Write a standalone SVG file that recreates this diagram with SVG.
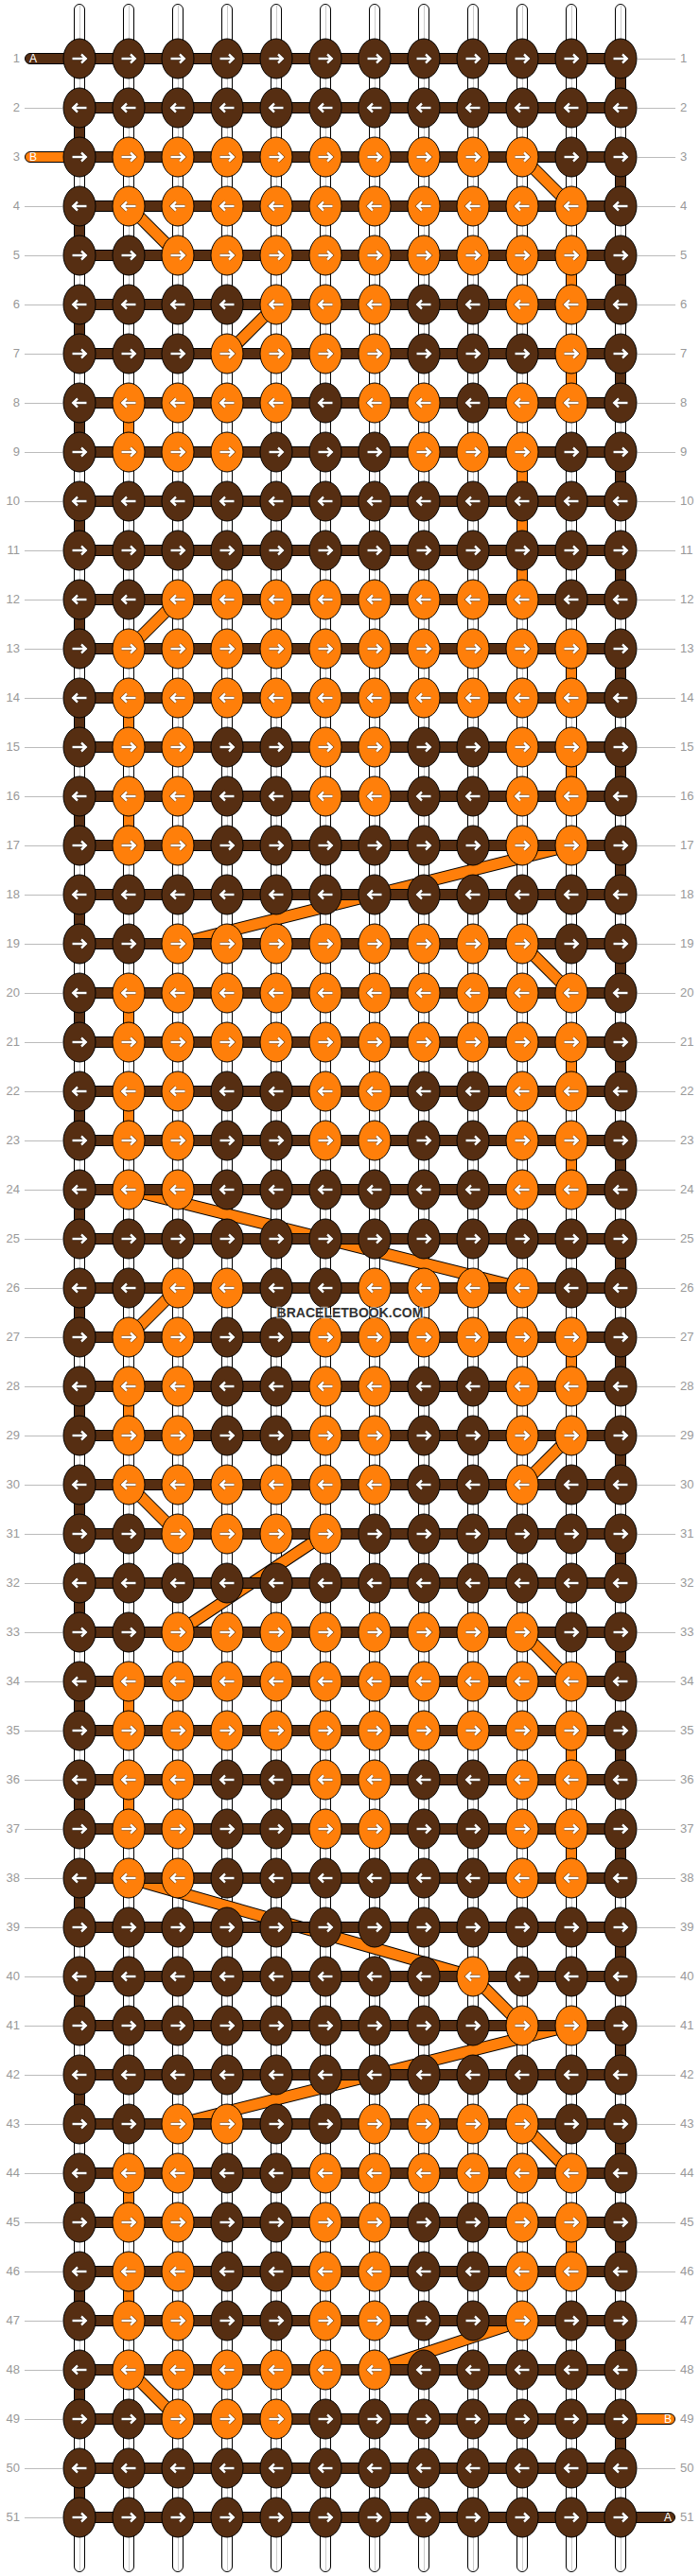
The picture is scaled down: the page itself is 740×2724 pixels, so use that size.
<svg xmlns="http://www.w3.org/2000/svg" width="740" height="2724" viewBox="0 0 740 2724">
<style>
.t{fill:#fff;stroke:#000}
.tc{fill:#ccc}
.bk{fill:#562e12;stroke:#000}
.og{fill:#ff7f0a;stroke:#000}
.dk{stroke:#000;stroke-width:13}
.do{stroke:#ff7f0a;stroke-width:11}
.ak{fill:none;stroke:#000;stroke-width:3.6;opacity:.55}
.aw{fill:none;stroke:#fff;stroke-width:2.4}
text{font-family:"Liberation Sans",Arial,sans-serif}
.l{font-size:13px;fill:#999;text-anchor:end}
.r{font-size:13px;fill:#999}
.e{font-size:12px;fill:#fff}
.g{fill:none;stroke:#bbb}
.w{font-size:14px;font-weight:bold;fill:#333;text-anchor:middle;stroke:#fff;stroke-opacity:.55;stroke-width:2.5px;paint-order:stroke}
</style>
<defs>
<path id="pr" d="M-7.5 0H6.5M2 -4.5L6.8 0L2 4.5"/>
<path id="pl" d="M7.5 0H-6.5M-2 -4.5L-6.8 0L-2 4.5"/>
<g id="aR"><use href="#pr" class="ak"/><use href="#pr" class="aw"/></g>
<g id="aL"><use href="#pl" class="ak"/><use href="#pl" class="aw"/></g>
<g id="bR"><ellipse class="bk" rx="17" ry="21"/><use href="#aR"/></g>
<g id="bL"><ellipse class="bk" rx="17" ry="21"/><use href="#aL"/></g>
<g id="oR"><ellipse class="og" rx="17" ry="21"/><use href="#aR"/></g>
<g id="oL"><ellipse class="og" rx="17" ry="21"/><use href="#aL"/></g>
<rect id="hb" class="bk" x="84" y="-5.5" width="572" height="11"/>
<rect id="vb" class="bk" x="-5.5" y="15" width="11" height="22"/>
<rect id="vo" class="og" x="-5.5" y="15" width="11" height="22"/>
<g id="th"><rect class="t" x="-5.5" y="4.5" width="11" height="2715" rx="5.5"/><rect class="tc" x="0" y="6" width="1" height="2712"/></g>
</defs>
<g id="connectors">
<g id="threads"><use href="#th" x="84"/><use href="#th" x="136"/><use href="#th" x="188"/><use href="#th" x="240"/><use href="#th" x="292"/><use href="#th" x="344"/><use href="#th" x="396"/><use href="#th" x="448"/><use href="#th" x="500"/><use href="#th" x="552"/><use href="#th" x="604"/><use href="#th" x="656"/></g>
<g id="diagonals">
<line class="dk" x1="552" y1="166" x2="604" y2="218"/><line class="do" x1="552" y1="166" x2="604" y2="218"/>
<line class="dk" x1="136" y1="218" x2="188" y2="270"/><line class="do" x1="136" y1="218" x2="188" y2="270"/>
<line class="dk" x1="240" y1="374" x2="292" y2="322"/><line class="do" x1="240" y1="374" x2="292" y2="322"/>
<line class="dk" x1="136" y1="686" x2="188" y2="634"/><line class="do" x1="136" y1="686" x2="188" y2="634"/>
<line class="dk" x1="604" y1="894" x2="188" y2="998"/><line class="do" x1="604" y1="894" x2="188" y2="998"/>
<line class="dk" x1="552" y1="998" x2="604" y2="1050"/><line class="do" x1="552" y1="998" x2="604" y2="1050"/>
<line class="dk" x1="136" y1="1258" x2="552" y2="1362"/><line class="do" x1="136" y1="1258" x2="552" y2="1362"/>
<line class="dk" x1="136" y1="1414" x2="188" y2="1362"/><line class="do" x1="136" y1="1414" x2="188" y2="1362"/>
<line class="dk" x1="552" y1="1570" x2="604" y2="1518"/><line class="do" x1="552" y1="1570" x2="604" y2="1518"/>
<line class="dk" x1="136" y1="1570" x2="188" y2="1622"/><line class="do" x1="136" y1="1570" x2="188" y2="1622"/>
<line class="dk" x1="344" y1="1622" x2="188" y2="1726"/><line class="do" x1="344" y1="1622" x2="188" y2="1726"/>
<line class="dk" x1="552" y1="1726" x2="604" y2="1778"/><line class="do" x1="552" y1="1726" x2="604" y2="1778"/>
<line class="dk" x1="136" y1="1986" x2="500" y2="2090"/><line class="do" x1="136" y1="1986" x2="500" y2="2090"/>
<line class="dk" x1="500" y1="2090" x2="552" y2="2142"/><line class="do" x1="500" y1="2090" x2="552" y2="2142"/>
<line class="dk" x1="604" y1="2142" x2="188" y2="2246"/><line class="do" x1="604" y1="2142" x2="188" y2="2246"/>
<line class="dk" x1="552" y1="2246" x2="604" y2="2298"/><line class="do" x1="552" y1="2246" x2="604" y2="2298"/>
<line class="dk" x1="552" y1="2454" x2="396" y2="2506"/><line class="do" x1="552" y1="2454" x2="396" y2="2506"/>
<line class="dk" x1="136" y1="2506" x2="188" y2="2558"/><line class="do" x1="136" y1="2506" x2="188" y2="2558"/>
</g>
<g id="bars"><use href="#hb" y="62"/><use href="#hb" y="114"/><use href="#hb" y="166"/><use href="#hb" y="218"/><use href="#hb" y="270"/><use href="#hb" y="322"/><use href="#hb" y="374"/><use href="#hb" y="426"/><use href="#hb" y="478"/><use href="#hb" y="530"/><use href="#hb" y="582"/><use href="#hb" y="634"/><use href="#hb" y="686"/><use href="#hb" y="738"/><use href="#hb" y="790"/><use href="#hb" y="842"/><use href="#hb" y="894"/><use href="#hb" y="946"/><use href="#hb" y="998"/><use href="#hb" y="1050"/><use href="#hb" y="1102"/><use href="#hb" y="1154"/><use href="#hb" y="1206"/><use href="#hb" y="1258"/><use href="#hb" y="1310"/><use href="#hb" y="1362"/><use href="#hb" y="1414"/><use href="#hb" y="1466"/><use href="#hb" y="1518"/><use href="#hb" y="1570"/><use href="#hb" y="1622"/><use href="#hb" y="1674"/><use href="#hb" y="1726"/><use href="#hb" y="1778"/><use href="#hb" y="1830"/><use href="#hb" y="1882"/><use href="#hb" y="1934"/><use href="#hb" y="1986"/><use href="#hb" y="2038"/><use href="#hb" y="2090"/><use href="#hb" y="2142"/><use href="#hb" y="2194"/><use href="#hb" y="2246"/><use href="#hb" y="2298"/><use href="#hb" y="2350"/><use href="#hb" y="2402"/><use href="#hb" y="2454"/><use href="#hb" y="2506"/><use href="#hb" y="2558"/><use href="#hb" y="2610"/><use href="#hb" y="2662"/></g>
<g id="edge-left"><use href="#vb" x="84" y="114"/><use href="#vb" x="84" y="218"/><use href="#vb" x="84" y="322"/><use href="#vb" x="84" y="426"/><use href="#vb" x="84" y="530"/><use href="#vb" x="84" y="634"/><use href="#vb" x="84" y="738"/><use href="#vb" x="84" y="842"/><use href="#vb" x="84" y="946"/><use href="#vb" x="84" y="1050"/><use href="#vb" x="84" y="1154"/><use href="#vb" x="84" y="1258"/><use href="#vb" x="84" y="1362"/><use href="#vb" x="84" y="1466"/><use href="#vb" x="84" y="1570"/><use href="#vb" x="84" y="1674"/><use href="#vb" x="84" y="1778"/><use href="#vb" x="84" y="1882"/><use href="#vb" x="84" y="1986"/><use href="#vb" x="84" y="2090"/><use href="#vb" x="84" y="2194"/><use href="#vb" x="84" y="2298"/><use href="#vb" x="84" y="2402"/><use href="#vb" x="84" y="2506"/><use href="#vb" x="84" y="2610"/></g>
<g id="edge-right"><use href="#vb" x="656" y="62"/><use href="#vb" x="656" y="166"/><use href="#vb" x="656" y="270"/><use href="#vb" x="656" y="374"/><use href="#vb" x="656" y="478"/><use href="#vb" x="656" y="582"/><use href="#vb" x="656" y="686"/><use href="#vb" x="656" y="790"/><use href="#vb" x="656" y="894"/><use href="#vb" x="656" y="998"/><use href="#vb" x="656" y="1102"/><use href="#vb" x="656" y="1206"/><use href="#vb" x="656" y="1310"/><use href="#vb" x="656" y="1414"/><use href="#vb" x="656" y="1518"/><use href="#vb" x="656" y="1622"/><use href="#vb" x="656" y="1726"/><use href="#vb" x="656" y="1830"/><use href="#vb" x="656" y="1934"/><use href="#vb" x="656" y="2038"/><use href="#vb" x="656" y="2142"/><use href="#vb" x="656" y="2246"/><use href="#vb" x="656" y="2350"/><use href="#vb" x="656" y="2454"/><use href="#vb" x="656" y="2558"/></g>
<g id="orange-links"><use href="#vo" x="604" y="270"/><use href="#vo" x="604" y="374"/><use href="#vo" x="604" y="686"/><use href="#vo" x="604" y="790"/><use href="#vo" x="604" y="1102"/><use href="#vo" x="604" y="1206"/><use href="#vo" x="604" y="1414"/><use href="#vo" x="604" y="1830"/><use href="#vo" x="604" y="1934"/><use href="#vo" x="604" y="2350"/><use href="#vo" x="136" y="426"/><use href="#vo" x="136" y="738"/><use href="#vo" x="136" y="842"/><use href="#vo" x="136" y="1050"/><use href="#vo" x="136" y="1154"/><use href="#vo" x="136" y="1466"/><use href="#vo" x="136" y="1778"/><use href="#vo" x="136" y="1882"/><use href="#vo" x="136" y="2298"/><use href="#vo" x="136" y="2402"/><use href="#vo" x="552" y="478"/><use href="#vo" x="552" y="530"/><use href="#vo" x="552" y="582"/></g>
<g id="ends">
<rect class="bk" x="26.5" y="56.5" width="60" height="11" rx="5.5"/>
<rect class="og" x="26.5" y="160.5" width="60" height="11" rx="5.5"/>
<rect class="og" x="650" y="2552.5" width="63.5" height="11" rx="5.5"/>
<rect class="bk" x="650" y="2656.5" width="63.5" height="11" rx="5.5"/>
</g>
</g>
<g id="nodes">
<g id="row1" transform="translate(0 62)"><g id="n1-0"><use href="#bR" x="84"/></g><g id="n1-1"><use href="#bR" x="136"/></g><g id="n1-2"><use href="#bR" x="188"/></g><g id="n1-3"><use href="#bR" x="240"/></g><g id="n1-4"><use href="#bR" x="292"/></g><g id="n1-5"><use href="#bR" x="344"/></g><g id="n1-6"><use href="#bR" x="396"/></g><g id="n1-7"><use href="#bR" x="448"/></g><g id="n1-8"><use href="#bR" x="500"/></g><g id="n1-9"><use href="#bR" x="552"/></g><g id="n1-10"><use href="#bR" x="604"/></g><g id="n1-11"><use href="#bR" x="656"/></g></g>
<g id="row2" transform="translate(0 114)"><g id="n2-0"><use href="#bL" x="84"/></g><g id="n2-1"><use href="#bL" x="136"/></g><g id="n2-2"><use href="#bL" x="188"/></g><g id="n2-3"><use href="#bL" x="240"/></g><g id="n2-4"><use href="#bL" x="292"/></g><g id="n2-5"><use href="#bL" x="344"/></g><g id="n2-6"><use href="#bL" x="396"/></g><g id="n2-7"><use href="#bL" x="448"/></g><g id="n2-8"><use href="#bL" x="500"/></g><g id="n2-9"><use href="#bL" x="552"/></g><g id="n2-10"><use href="#bL" x="604"/></g><g id="n2-11"><use href="#bL" x="656"/></g></g>
<g id="row3" transform="translate(0 166)"><g id="n3-0"><use href="#bR" x="84"/></g><g id="n3-1"><use href="#oR" x="136"/></g><g id="n3-2"><use href="#oR" x="188"/></g><g id="n3-3"><use href="#oR" x="240"/></g><g id="n3-4"><use href="#oR" x="292"/></g><g id="n3-5"><use href="#oR" x="344"/></g><g id="n3-6"><use href="#oR" x="396"/></g><g id="n3-7"><use href="#oR" x="448"/></g><g id="n3-8"><use href="#oR" x="500"/></g><g id="n3-9"><use href="#oR" x="552"/></g><g id="n3-10"><use href="#bR" x="604"/></g><g id="n3-11"><use href="#bR" x="656"/></g></g>
<g id="row4" transform="translate(0 218)"><g id="n4-0"><use href="#bL" x="84"/></g><g id="n4-1"><use href="#oL" x="136"/></g><g id="n4-2"><use href="#oL" x="188"/></g><g id="n4-3"><use href="#oL" x="240"/></g><g id="n4-4"><use href="#oL" x="292"/></g><g id="n4-5"><use href="#oL" x="344"/></g><g id="n4-6"><use href="#oL" x="396"/></g><g id="n4-7"><use href="#oL" x="448"/></g><g id="n4-8"><use href="#oL" x="500"/></g><g id="n4-9"><use href="#oL" x="552"/></g><g id="n4-10"><use href="#oL" x="604"/></g><g id="n4-11"><use href="#bL" x="656"/></g></g>
<g id="row5" transform="translate(0 270)"><g id="n5-0"><use href="#bR" x="84"/></g><g id="n5-1"><use href="#bR" x="136"/></g><g id="n5-2"><use href="#oR" x="188"/></g><g id="n5-3"><use href="#oR" x="240"/></g><g id="n5-4"><use href="#oR" x="292"/></g><g id="n5-5"><use href="#oR" x="344"/></g><g id="n5-6"><use href="#oR" x="396"/></g><g id="n5-7"><use href="#oR" x="448"/></g><g id="n5-8"><use href="#oR" x="500"/></g><g id="n5-9"><use href="#oR" x="552"/></g><g id="n5-10"><use href="#oR" x="604"/></g><g id="n5-11"><use href="#bR" x="656"/></g></g>
<g id="row6" transform="translate(0 322)"><g id="n6-0"><use href="#bL" x="84"/></g><g id="n6-1"><use href="#bL" x="136"/></g><g id="n6-2"><use href="#bL" x="188"/></g><g id="n6-3"><use href="#bL" x="240"/></g><g id="n6-4"><use href="#oL" x="292"/></g><g id="n6-5"><use href="#oL" x="344"/></g><g id="n6-6"><use href="#oL" x="396"/></g><g id="n6-7"><use href="#bL" x="448"/></g><g id="n6-8"><use href="#bL" x="500"/></g><g id="n6-9"><use href="#oL" x="552"/></g><g id="n6-10"><use href="#oL" x="604"/></g><g id="n6-11"><use href="#bL" x="656"/></g></g>
<g id="row7" transform="translate(0 374)"><g id="n7-0"><use href="#bR" x="84"/></g><g id="n7-1"><use href="#bR" x="136"/></g><g id="n7-2"><use href="#bR" x="188"/></g><g id="n7-3"><use href="#oR" x="240"/></g><g id="n7-4"><use href="#oR" x="292"/></g><g id="n7-5"><use href="#oR" x="344"/></g><g id="n7-6"><use href="#oR" x="396"/></g><g id="n7-7"><use href="#bR" x="448"/></g><g id="n7-8"><use href="#bR" x="500"/></g><g id="n7-9"><use href="#bR" x="552"/></g><g id="n7-10"><use href="#oR" x="604"/></g><g id="n7-11"><use href="#bR" x="656"/></g></g>
<g id="row8" transform="translate(0 426)"><g id="n8-0"><use href="#bL" x="84"/></g><g id="n8-1"><use href="#oL" x="136"/></g><g id="n8-2"><use href="#oL" x="188"/></g><g id="n8-3"><use href="#oL" x="240"/></g><g id="n8-4"><use href="#oL" x="292"/></g><g id="n8-5"><use href="#bL" x="344"/></g><g id="n8-6"><use href="#oL" x="396"/></g><g id="n8-7"><use href="#oL" x="448"/></g><g id="n8-8"><use href="#bL" x="500"/></g><g id="n8-9"><use href="#oL" x="552"/></g><g id="n8-10"><use href="#oL" x="604"/></g><g id="n8-11"><use href="#bL" x="656"/></g></g>
<g id="row9" transform="translate(0 478)"><g id="n9-0"><use href="#bR" x="84"/></g><g id="n9-1"><use href="#oR" x="136"/></g><g id="n9-2"><use href="#oR" x="188"/></g><g id="n9-3"><use href="#oR" x="240"/></g><g id="n9-4"><use href="#bR" x="292"/></g><g id="n9-5"><use href="#bR" x="344"/></g><g id="n9-6"><use href="#bR" x="396"/></g><g id="n9-7"><use href="#oR" x="448"/></g><g id="n9-8"><use href="#oR" x="500"/></g><g id="n9-9"><use href="#oR" x="552"/></g><g id="n9-10"><use href="#bR" x="604"/></g><g id="n9-11"><use href="#bR" x="656"/></g></g>
<g id="row10" transform="translate(0 530)"><g id="n10-0"><use href="#bL" x="84"/></g><g id="n10-1"><use href="#bL" x="136"/></g><g id="n10-2"><use href="#bL" x="188"/></g><g id="n10-3"><use href="#bL" x="240"/></g><g id="n10-4"><use href="#bL" x="292"/></g><g id="n10-5"><use href="#bL" x="344"/></g><g id="n10-6"><use href="#bL" x="396"/></g><g id="n10-7"><use href="#bL" x="448"/></g><g id="n10-8"><use href="#bL" x="500"/></g><g id="n10-9"><use href="#bL" x="552"/></g><g id="n10-10"><use href="#bL" x="604"/></g><g id="n10-11"><use href="#bL" x="656"/></g></g>
<g id="row11" transform="translate(0 582)"><g id="n11-0"><use href="#bR" x="84"/></g><g id="n11-1"><use href="#bR" x="136"/></g><g id="n11-2"><use href="#bR" x="188"/></g><g id="n11-3"><use href="#bR" x="240"/></g><g id="n11-4"><use href="#bR" x="292"/></g><g id="n11-5"><use href="#bR" x="344"/></g><g id="n11-6"><use href="#bR" x="396"/></g><g id="n11-7"><use href="#bR" x="448"/></g><g id="n11-8"><use href="#bR" x="500"/></g><g id="n11-9"><use href="#bR" x="552"/></g><g id="n11-10"><use href="#bR" x="604"/></g><g id="n11-11"><use href="#bR" x="656"/></g></g>
<g id="row12" transform="translate(0 634)"><g id="n12-0"><use href="#bL" x="84"/></g><g id="n12-1"><use href="#bL" x="136"/></g><g id="n12-2"><use href="#oL" x="188"/></g><g id="n12-3"><use href="#oL" x="240"/></g><g id="n12-4"><use href="#oL" x="292"/></g><g id="n12-5"><use href="#oL" x="344"/></g><g id="n12-6"><use href="#oL" x="396"/></g><g id="n12-7"><use href="#oL" x="448"/></g><g id="n12-8"><use href="#oL" x="500"/></g><g id="n12-9"><use href="#oL" x="552"/></g><g id="n12-10"><use href="#bL" x="604"/></g><g id="n12-11"><use href="#bL" x="656"/></g></g>
<g id="row13" transform="translate(0 686)"><g id="n13-0"><use href="#bR" x="84"/></g><g id="n13-1"><use href="#oR" x="136"/></g><g id="n13-2"><use href="#oR" x="188"/></g><g id="n13-3"><use href="#oR" x="240"/></g><g id="n13-4"><use href="#oR" x="292"/></g><g id="n13-5"><use href="#oR" x="344"/></g><g id="n13-6"><use href="#oR" x="396"/></g><g id="n13-7"><use href="#oR" x="448"/></g><g id="n13-8"><use href="#oR" x="500"/></g><g id="n13-9"><use href="#oR" x="552"/></g><g id="n13-10"><use href="#oR" x="604"/></g><g id="n13-11"><use href="#bR" x="656"/></g></g>
<g id="row14" transform="translate(0 738)"><g id="n14-0"><use href="#bL" x="84"/></g><g id="n14-1"><use href="#oL" x="136"/></g><g id="n14-2"><use href="#oL" x="188"/></g><g id="n14-3"><use href="#oL" x="240"/></g><g id="n14-4"><use href="#oL" x="292"/></g><g id="n14-5"><use href="#oL" x="344"/></g><g id="n14-6"><use href="#oL" x="396"/></g><g id="n14-7"><use href="#oL" x="448"/></g><g id="n14-8"><use href="#oL" x="500"/></g><g id="n14-9"><use href="#oL" x="552"/></g><g id="n14-10"><use href="#oL" x="604"/></g><g id="n14-11"><use href="#bL" x="656"/></g></g>
<g id="row15" transform="translate(0 790)"><g id="n15-0"><use href="#bR" x="84"/></g><g id="n15-1"><use href="#oR" x="136"/></g><g id="n15-2"><use href="#oR" x="188"/></g><g id="n15-3"><use href="#bR" x="240"/></g><g id="n15-4"><use href="#bR" x="292"/></g><g id="n15-5"><use href="#oR" x="344"/></g><g id="n15-6"><use href="#oR" x="396"/></g><g id="n15-7"><use href="#bR" x="448"/></g><g id="n15-8"><use href="#bR" x="500"/></g><g id="n15-9"><use href="#oR" x="552"/></g><g id="n15-10"><use href="#oR" x="604"/></g><g id="n15-11"><use href="#bR" x="656"/></g></g>
<g id="row16" transform="translate(0 842)"><g id="n16-0"><use href="#bL" x="84"/></g><g id="n16-1"><use href="#oL" x="136"/></g><g id="n16-2"><use href="#oL" x="188"/></g><g id="n16-3"><use href="#bL" x="240"/></g><g id="n16-4"><use href="#bL" x="292"/></g><g id="n16-5"><use href="#oL" x="344"/></g><g id="n16-6"><use href="#oL" x="396"/></g><g id="n16-7"><use href="#bL" x="448"/></g><g id="n16-8"><use href="#bL" x="500"/></g><g id="n16-9"><use href="#oL" x="552"/></g><g id="n16-10"><use href="#oL" x="604"/></g><g id="n16-11"><use href="#bL" x="656"/></g></g>
<g id="row17" transform="translate(0 894)"><g id="n17-0"><use href="#bR" x="84"/></g><g id="n17-1"><use href="#oR" x="136"/></g><g id="n17-2"><use href="#oR" x="188"/></g><g id="n17-3"><use href="#bR" x="240"/></g><g id="n17-4"><use href="#bR" x="292"/></g><g id="n17-5"><use href="#bR" x="344"/></g><g id="n17-6"><use href="#bR" x="396"/></g><g id="n17-7"><use href="#bR" x="448"/></g><g id="n17-8"><use href="#bR" x="500"/></g><g id="n17-9"><use href="#oR" x="552"/></g><g id="n17-10"><use href="#oR" x="604"/></g><g id="n17-11"><use href="#bR" x="656"/></g></g>
<g id="row18" transform="translate(0 946)"><g id="n18-0"><use href="#bL" x="84"/></g><g id="n18-1"><use href="#bL" x="136"/></g><g id="n18-2"><use href="#bL" x="188"/></g><g id="n18-3"><use href="#bL" x="240"/></g><g id="n18-4"><use href="#bL" x="292"/></g><g id="n18-5"><use href="#bL" x="344"/></g><g id="n18-6"><use href="#bL" x="396"/></g><g id="n18-7"><use href="#bL" x="448"/></g><g id="n18-8"><use href="#bL" x="500"/></g><g id="n18-9"><use href="#bL" x="552"/></g><g id="n18-10"><use href="#bL" x="604"/></g><g id="n18-11"><use href="#bL" x="656"/></g></g>
<g id="row19" transform="translate(0 998)"><g id="n19-0"><use href="#bR" x="84"/></g><g id="n19-1"><use href="#bR" x="136"/></g><g id="n19-2"><use href="#oR" x="188"/></g><g id="n19-3"><use href="#oR" x="240"/></g><g id="n19-4"><use href="#oR" x="292"/></g><g id="n19-5"><use href="#oR" x="344"/></g><g id="n19-6"><use href="#oR" x="396"/></g><g id="n19-7"><use href="#oR" x="448"/></g><g id="n19-8"><use href="#oR" x="500"/></g><g id="n19-9"><use href="#oR" x="552"/></g><g id="n19-10"><use href="#bR" x="604"/></g><g id="n19-11"><use href="#bR" x="656"/></g></g>
<g id="row20" transform="translate(0 1050)"><g id="n20-0"><use href="#bL" x="84"/></g><g id="n20-1"><use href="#oL" x="136"/></g><g id="n20-2"><use href="#oL" x="188"/></g><g id="n20-3"><use href="#oL" x="240"/></g><g id="n20-4"><use href="#oL" x="292"/></g><g id="n20-5"><use href="#oL" x="344"/></g><g id="n20-6"><use href="#oL" x="396"/></g><g id="n20-7"><use href="#oL" x="448"/></g><g id="n20-8"><use href="#oL" x="500"/></g><g id="n20-9"><use href="#oL" x="552"/></g><g id="n20-10"><use href="#oL" x="604"/></g><g id="n20-11"><use href="#bL" x="656"/></g></g>
<g id="row21" transform="translate(0 1102)"><g id="n21-0"><use href="#bR" x="84"/></g><g id="n21-1"><use href="#oR" x="136"/></g><g id="n21-2"><use href="#oR" x="188"/></g><g id="n21-3"><use href="#oR" x="240"/></g><g id="n21-4"><use href="#oR" x="292"/></g><g id="n21-5"><use href="#oR" x="344"/></g><g id="n21-6"><use href="#oR" x="396"/></g><g id="n21-7"><use href="#oR" x="448"/></g><g id="n21-8"><use href="#oR" x="500"/></g><g id="n21-9"><use href="#oR" x="552"/></g><g id="n21-10"><use href="#oR" x="604"/></g><g id="n21-11"><use href="#bR" x="656"/></g></g>
<g id="row22" transform="translate(0 1154)"><g id="n22-0"><use href="#bL" x="84"/></g><g id="n22-1"><use href="#oL" x="136"/></g><g id="n22-2"><use href="#oL" x="188"/></g><g id="n22-3"><use href="#bL" x="240"/></g><g id="n22-4"><use href="#bL" x="292"/></g><g id="n22-5"><use href="#oL" x="344"/></g><g id="n22-6"><use href="#oL" x="396"/></g><g id="n22-7"><use href="#bL" x="448"/></g><g id="n22-8"><use href="#bL" x="500"/></g><g id="n22-9"><use href="#oL" x="552"/></g><g id="n22-10"><use href="#oL" x="604"/></g><g id="n22-11"><use href="#bL" x="656"/></g></g>
<g id="row23" transform="translate(0 1206)"><g id="n23-0"><use href="#bR" x="84"/></g><g id="n23-1"><use href="#oR" x="136"/></g><g id="n23-2"><use href="#oR" x="188"/></g><g id="n23-3"><use href="#bR" x="240"/></g><g id="n23-4"><use href="#bR" x="292"/></g><g id="n23-5"><use href="#oR" x="344"/></g><g id="n23-6"><use href="#oR" x="396"/></g><g id="n23-7"><use href="#bR" x="448"/></g><g id="n23-8"><use href="#bR" x="500"/></g><g id="n23-9"><use href="#oR" x="552"/></g><g id="n23-10"><use href="#oR" x="604"/></g><g id="n23-11"><use href="#bR" x="656"/></g></g>
<g id="row24" transform="translate(0 1258)"><g id="n24-0"><use href="#bL" x="84"/></g><g id="n24-1"><use href="#oL" x="136"/></g><g id="n24-2"><use href="#oL" x="188"/></g><g id="n24-3"><use href="#bL" x="240"/></g><g id="n24-4"><use href="#bL" x="292"/></g><g id="n24-5"><use href="#bL" x="344"/></g><g id="n24-6"><use href="#bL" x="396"/></g><g id="n24-7"><use href="#bL" x="448"/></g><g id="n24-8"><use href="#bL" x="500"/></g><g id="n24-9"><use href="#oL" x="552"/></g><g id="n24-10"><use href="#oL" x="604"/></g><g id="n24-11"><use href="#bL" x="656"/></g></g>
<g id="row25" transform="translate(0 1310)"><g id="n25-0"><use href="#bR" x="84"/></g><g id="n25-1"><use href="#bR" x="136"/></g><g id="n25-2"><use href="#bR" x="188"/></g><g id="n25-3"><use href="#bR" x="240"/></g><g id="n25-4"><use href="#bR" x="292"/></g><g id="n25-5"><use href="#bR" x="344"/></g><g id="n25-6"><use href="#bR" x="396"/></g><g id="n25-7"><use href="#bR" x="448"/></g><g id="n25-8"><use href="#bR" x="500"/></g><g id="n25-9"><use href="#bR" x="552"/></g><g id="n25-10"><use href="#bR" x="604"/></g><g id="n25-11"><use href="#bR" x="656"/></g></g>
<g id="row26" transform="translate(0 1362)"><g id="n26-0"><use href="#bL" x="84"/></g><g id="n26-1"><use href="#bL" x="136"/></g><g id="n26-2"><use href="#oL" x="188"/></g><g id="n26-3"><use href="#oL" x="240"/></g><g id="n26-4"><use href="#bL" x="292"/></g><g id="n26-5"><use href="#bL" x="344"/></g><g id="n26-6"><use href="#oL" x="396"/></g><g id="n26-7"><use href="#oL" x="448"/></g><g id="n26-8"><use href="#oL" x="500"/></g><g id="n26-9"><use href="#oL" x="552"/></g><g id="n26-10"><use href="#bL" x="604"/></g><g id="n26-11"><use href="#bL" x="656"/></g></g>
<g id="row27" transform="translate(0 1414)"><g id="n27-0"><use href="#bR" x="84"/></g><g id="n27-1"><use href="#oR" x="136"/></g><g id="n27-2"><use href="#oR" x="188"/></g><g id="n27-3"><use href="#bR" x="240"/></g><g id="n27-4"><use href="#bR" x="292"/></g><g id="n27-5"><use href="#oR" x="344"/></g><g id="n27-6"><use href="#oR" x="396"/></g><g id="n27-7"><use href="#oR" x="448"/></g><g id="n27-8"><use href="#oR" x="500"/></g><g id="n27-9"><use href="#oR" x="552"/></g><g id="n27-10"><use href="#oR" x="604"/></g><g id="n27-11"><use href="#bR" x="656"/></g></g>
<g id="row28" transform="translate(0 1466)"><g id="n28-0"><use href="#bL" x="84"/></g><g id="n28-1"><use href="#oL" x="136"/></g><g id="n28-2"><use href="#oL" x="188"/></g><g id="n28-3"><use href="#bL" x="240"/></g><g id="n28-4"><use href="#bL" x="292"/></g><g id="n28-5"><use href="#oL" x="344"/></g><g id="n28-6"><use href="#oL" x="396"/></g><g id="n28-7"><use href="#bL" x="448"/></g><g id="n28-8"><use href="#bL" x="500"/></g><g id="n28-9"><use href="#oL" x="552"/></g><g id="n28-10"><use href="#oL" x="604"/></g><g id="n28-11"><use href="#bL" x="656"/></g></g>
<g id="row29" transform="translate(0 1518)"><g id="n29-0"><use href="#bR" x="84"/></g><g id="n29-1"><use href="#oR" x="136"/></g><g id="n29-2"><use href="#oR" x="188"/></g><g id="n29-3"><use href="#bR" x="240"/></g><g id="n29-4"><use href="#bR" x="292"/></g><g id="n29-5"><use href="#oR" x="344"/></g><g id="n29-6"><use href="#oR" x="396"/></g><g id="n29-7"><use href="#bR" x="448"/></g><g id="n29-8"><use href="#bR" x="500"/></g><g id="n29-9"><use href="#oR" x="552"/></g><g id="n29-10"><use href="#oR" x="604"/></g><g id="n29-11"><use href="#bR" x="656"/></g></g>
<g id="row30" transform="translate(0 1570)"><g id="n30-0"><use href="#bL" x="84"/></g><g id="n30-1"><use href="#oL" x="136"/></g><g id="n30-2"><use href="#oL" x="188"/></g><g id="n30-3"><use href="#oL" x="240"/></g><g id="n30-4"><use href="#oL" x="292"/></g><g id="n30-5"><use href="#oL" x="344"/></g><g id="n30-6"><use href="#oL" x="396"/></g><g id="n30-7"><use href="#bL" x="448"/></g><g id="n30-8"><use href="#bL" x="500"/></g><g id="n30-9"><use href="#oL" x="552"/></g><g id="n30-10"><use href="#bL" x="604"/></g><g id="n30-11"><use href="#bL" x="656"/></g></g>
<g id="row31" transform="translate(0 1622)"><g id="n31-0"><use href="#bR" x="84"/></g><g id="n31-1"><use href="#bR" x="136"/></g><g id="n31-2"><use href="#oR" x="188"/></g><g id="n31-3"><use href="#oR" x="240"/></g><g id="n31-4"><use href="#oR" x="292"/></g><g id="n31-5"><use href="#oR" x="344"/></g><g id="n31-6"><use href="#bR" x="396"/></g><g id="n31-7"><use href="#bR" x="448"/></g><g id="n31-8"><use href="#bR" x="500"/></g><g id="n31-9"><use href="#bR" x="552"/></g><g id="n31-10"><use href="#bR" x="604"/></g><g id="n31-11"><use href="#bR" x="656"/></g></g>
<g id="row32" transform="translate(0 1674)"><g id="n32-0"><use href="#bL" x="84"/></g><g id="n32-1"><use href="#bL" x="136"/></g><g id="n32-2"><use href="#bL" x="188"/></g><g id="n32-3"><use href="#bL" x="240"/></g><g id="n32-4"><use href="#bL" x="292"/></g><g id="n32-5"><use href="#bL" x="344"/></g><g id="n32-6"><use href="#bL" x="396"/></g><g id="n32-7"><use href="#bL" x="448"/></g><g id="n32-8"><use href="#bL" x="500"/></g><g id="n32-9"><use href="#bL" x="552"/></g><g id="n32-10"><use href="#bL" x="604"/></g><g id="n32-11"><use href="#bL" x="656"/></g></g>
<g id="row33" transform="translate(0 1726)"><g id="n33-0"><use href="#bR" x="84"/></g><g id="n33-1"><use href="#bR" x="136"/></g><g id="n33-2"><use href="#oR" x="188"/></g><g id="n33-3"><use href="#oR" x="240"/></g><g id="n33-4"><use href="#oR" x="292"/></g><g id="n33-5"><use href="#oR" x="344"/></g><g id="n33-6"><use href="#oR" x="396"/></g><g id="n33-7"><use href="#oR" x="448"/></g><g id="n33-8"><use href="#oR" x="500"/></g><g id="n33-9"><use href="#oR" x="552"/></g><g id="n33-10"><use href="#bR" x="604"/></g><g id="n33-11"><use href="#bR" x="656"/></g></g>
<g id="row34" transform="translate(0 1778)"><g id="n34-0"><use href="#bL" x="84"/></g><g id="n34-1"><use href="#oL" x="136"/></g><g id="n34-2"><use href="#oL" x="188"/></g><g id="n34-3"><use href="#oL" x="240"/></g><g id="n34-4"><use href="#oL" x="292"/></g><g id="n34-5"><use href="#oL" x="344"/></g><g id="n34-6"><use href="#oL" x="396"/></g><g id="n34-7"><use href="#oL" x="448"/></g><g id="n34-8"><use href="#oL" x="500"/></g><g id="n34-9"><use href="#oL" x="552"/></g><g id="n34-10"><use href="#oL" x="604"/></g><g id="n34-11"><use href="#bL" x="656"/></g></g>
<g id="row35" transform="translate(0 1830)"><g id="n35-0"><use href="#bR" x="84"/></g><g id="n35-1"><use href="#oR" x="136"/></g><g id="n35-2"><use href="#oR" x="188"/></g><g id="n35-3"><use href="#oR" x="240"/></g><g id="n35-4"><use href="#oR" x="292"/></g><g id="n35-5"><use href="#oR" x="344"/></g><g id="n35-6"><use href="#oR" x="396"/></g><g id="n35-7"><use href="#oR" x="448"/></g><g id="n35-8"><use href="#oR" x="500"/></g><g id="n35-9"><use href="#oR" x="552"/></g><g id="n35-10"><use href="#oR" x="604"/></g><g id="n35-11"><use href="#bR" x="656"/></g></g>
<g id="row36" transform="translate(0 1882)"><g id="n36-0"><use href="#bL" x="84"/></g><g id="n36-1"><use href="#oL" x="136"/></g><g id="n36-2"><use href="#oL" x="188"/></g><g id="n36-3"><use href="#bL" x="240"/></g><g id="n36-4"><use href="#bL" x="292"/></g><g id="n36-5"><use href="#oL" x="344"/></g><g id="n36-6"><use href="#oL" x="396"/></g><g id="n36-7"><use href="#bL" x="448"/></g><g id="n36-8"><use href="#bL" x="500"/></g><g id="n36-9"><use href="#oL" x="552"/></g><g id="n36-10"><use href="#oL" x="604"/></g><g id="n36-11"><use href="#bL" x="656"/></g></g>
<g id="row37" transform="translate(0 1934)"><g id="n37-0"><use href="#bR" x="84"/></g><g id="n37-1"><use href="#oR" x="136"/></g><g id="n37-2"><use href="#oR" x="188"/></g><g id="n37-3"><use href="#bR" x="240"/></g><g id="n37-4"><use href="#bR" x="292"/></g><g id="n37-5"><use href="#oR" x="344"/></g><g id="n37-6"><use href="#oR" x="396"/></g><g id="n37-7"><use href="#bR" x="448"/></g><g id="n37-8"><use href="#bR" x="500"/></g><g id="n37-9"><use href="#oR" x="552"/></g><g id="n37-10"><use href="#oR" x="604"/></g><g id="n37-11"><use href="#bR" x="656"/></g></g>
<g id="row38" transform="translate(0 1986)"><g id="n38-0"><use href="#bL" x="84"/></g><g id="n38-1"><use href="#oL" x="136"/></g><g id="n38-2"><use href="#oL" x="188"/></g><g id="n38-3"><use href="#bL" x="240"/></g><g id="n38-4"><use href="#bL" x="292"/></g><g id="n38-5"><use href="#bL" x="344"/></g><g id="n38-6"><use href="#bL" x="396"/></g><g id="n38-7"><use href="#bL" x="448"/></g><g id="n38-8"><use href="#bL" x="500"/></g><g id="n38-9"><use href="#oL" x="552"/></g><g id="n38-10"><use href="#oL" x="604"/></g><g id="n38-11"><use href="#bL" x="656"/></g></g>
<g id="row39" transform="translate(0 2038)"><g id="n39-0"><use href="#bR" x="84"/></g><g id="n39-1"><use href="#bR" x="136"/></g><g id="n39-2"><use href="#bR" x="188"/></g><g id="n39-3"><use href="#bR" x="240"/></g><g id="n39-4"><use href="#bR" x="292"/></g><g id="n39-5"><use href="#bR" x="344"/></g><g id="n39-6"><use href="#bR" x="396"/></g><g id="n39-7"><use href="#bR" x="448"/></g><g id="n39-8"><use href="#bR" x="500"/></g><g id="n39-9"><use href="#bR" x="552"/></g><g id="n39-10"><use href="#bR" x="604"/></g><g id="n39-11"><use href="#bR" x="656"/></g></g>
<g id="row40" transform="translate(0 2090)"><g id="n40-0"><use href="#bL" x="84"/></g><g id="n40-1"><use href="#bL" x="136"/></g><g id="n40-2"><use href="#bL" x="188"/></g><g id="n40-3"><use href="#bL" x="240"/></g><g id="n40-4"><use href="#bL" x="292"/></g><g id="n40-5"><use href="#bL" x="344"/></g><g id="n40-6"><use href="#bL" x="396"/></g><g id="n40-7"><use href="#bL" x="448"/></g><g id="n40-8"><use href="#oL" x="500"/></g><g id="n40-9"><use href="#bL" x="552"/></g><g id="n40-10"><use href="#bL" x="604"/></g><g id="n40-11"><use href="#bL" x="656"/></g></g>
<g id="row41" transform="translate(0 2142)"><g id="n41-0"><use href="#bR" x="84"/></g><g id="n41-1"><use href="#bR" x="136"/></g><g id="n41-2"><use href="#bR" x="188"/></g><g id="n41-3"><use href="#bR" x="240"/></g><g id="n41-4"><use href="#bR" x="292"/></g><g id="n41-5"><use href="#bR" x="344"/></g><g id="n41-6"><use href="#bR" x="396"/></g><g id="n41-7"><use href="#bR" x="448"/></g><g id="n41-8"><use href="#bR" x="500"/></g><g id="n41-9"><use href="#oR" x="552"/></g><g id="n41-10"><use href="#oR" x="604"/></g><g id="n41-11"><use href="#bR" x="656"/></g></g>
<g id="row42" transform="translate(0 2194)"><g id="n42-0"><use href="#bL" x="84"/></g><g id="n42-1"><use href="#bL" x="136"/></g><g id="n42-2"><use href="#bL" x="188"/></g><g id="n42-3"><use href="#bL" x="240"/></g><g id="n42-4"><use href="#bL" x="292"/></g><g id="n42-5"><use href="#bL" x="344"/></g><g id="n42-6"><use href="#bL" x="396"/></g><g id="n42-7"><use href="#bL" x="448"/></g><g id="n42-8"><use href="#bL" x="500"/></g><g id="n42-9"><use href="#bL" x="552"/></g><g id="n42-10"><use href="#bL" x="604"/></g><g id="n42-11"><use href="#bL" x="656"/></g></g>
<g id="row43" transform="translate(0 2246)"><g id="n43-0"><use href="#bR" x="84"/></g><g id="n43-1"><use href="#bR" x="136"/></g><g id="n43-2"><use href="#oR" x="188"/></g><g id="n43-3"><use href="#oR" x="240"/></g><g id="n43-4"><use href="#bR" x="292"/></g><g id="n43-5"><use href="#bR" x="344"/></g><g id="n43-6"><use href="#oR" x="396"/></g><g id="n43-7"><use href="#oR" x="448"/></g><g id="n43-8"><use href="#oR" x="500"/></g><g id="n43-9"><use href="#oR" x="552"/></g><g id="n43-10"><use href="#bR" x="604"/></g><g id="n43-11"><use href="#bR" x="656"/></g></g>
<g id="row44" transform="translate(0 2298)"><g id="n44-0"><use href="#bL" x="84"/></g><g id="n44-1"><use href="#oL" x="136"/></g><g id="n44-2"><use href="#oL" x="188"/></g><g id="n44-3"><use href="#bL" x="240"/></g><g id="n44-4"><use href="#bL" x="292"/></g><g id="n44-5"><use href="#oL" x="344"/></g><g id="n44-6"><use href="#oL" x="396"/></g><g id="n44-7"><use href="#oL" x="448"/></g><g id="n44-8"><use href="#oL" x="500"/></g><g id="n44-9"><use href="#oL" x="552"/></g><g id="n44-10"><use href="#oL" x="604"/></g><g id="n44-11"><use href="#bL" x="656"/></g></g>
<g id="row45" transform="translate(0 2350)"><g id="n45-0"><use href="#bR" x="84"/></g><g id="n45-1"><use href="#oR" x="136"/></g><g id="n45-2"><use href="#oR" x="188"/></g><g id="n45-3"><use href="#bR" x="240"/></g><g id="n45-4"><use href="#bR" x="292"/></g><g id="n45-5"><use href="#oR" x="344"/></g><g id="n45-6"><use href="#oR" x="396"/></g><g id="n45-7"><use href="#bR" x="448"/></g><g id="n45-8"><use href="#bR" x="500"/></g><g id="n45-9"><use href="#oR" x="552"/></g><g id="n45-10"><use href="#oR" x="604"/></g><g id="n45-11"><use href="#bR" x="656"/></g></g>
<g id="row46" transform="translate(0 2402)"><g id="n46-0"><use href="#bL" x="84"/></g><g id="n46-1"><use href="#oL" x="136"/></g><g id="n46-2"><use href="#oL" x="188"/></g><g id="n46-3"><use href="#bL" x="240"/></g><g id="n46-4"><use href="#bL" x="292"/></g><g id="n46-5"><use href="#oL" x="344"/></g><g id="n46-6"><use href="#oL" x="396"/></g><g id="n46-7"><use href="#bL" x="448"/></g><g id="n46-8"><use href="#bL" x="500"/></g><g id="n46-9"><use href="#oL" x="552"/></g><g id="n46-10"><use href="#oL" x="604"/></g><g id="n46-11"><use href="#bL" x="656"/></g></g>
<g id="row47" transform="translate(0 2454)"><g id="n47-0"><use href="#bR" x="84"/></g><g id="n47-1"><use href="#oR" x="136"/></g><g id="n47-2"><use href="#oR" x="188"/></g><g id="n47-3"><use href="#bR" x="240"/></g><g id="n47-4"><use href="#bR" x="292"/></g><g id="n47-5"><use href="#oR" x="344"/></g><g id="n47-6"><use href="#oR" x="396"/></g><g id="n47-7"><use href="#bR" x="448"/></g><g id="n47-8"><use href="#bR" x="500"/></g><g id="n47-9"><use href="#oR" x="552"/></g><g id="n47-10"><use href="#bR" x="604"/></g><g id="n47-11"><use href="#bR" x="656"/></g></g>
<g id="row48" transform="translate(0 2506)"><g id="n48-0"><use href="#bL" x="84"/></g><g id="n48-1"><use href="#oL" x="136"/></g><g id="n48-2"><use href="#oL" x="188"/></g><g id="n48-3"><use href="#oL" x="240"/></g><g id="n48-4"><use href="#oL" x="292"/></g><g id="n48-5"><use href="#oL" x="344"/></g><g id="n48-6"><use href="#oL" x="396"/></g><g id="n48-7"><use href="#bL" x="448"/></g><g id="n48-8"><use href="#bL" x="500"/></g><g id="n48-9"><use href="#bL" x="552"/></g><g id="n48-10"><use href="#bL" x="604"/></g><g id="n48-11"><use href="#bL" x="656"/></g></g>
<g id="row49" transform="translate(0 2558)"><g id="n49-0"><use href="#bR" x="84"/></g><g id="n49-1"><use href="#bR" x="136"/></g><g id="n49-2"><use href="#oR" x="188"/></g><g id="n49-3"><use href="#oR" x="240"/></g><g id="n49-4"><use href="#oR" x="292"/></g><g id="n49-5"><use href="#bR" x="344"/></g><g id="n49-6"><use href="#bR" x="396"/></g><g id="n49-7"><use href="#bR" x="448"/></g><g id="n49-8"><use href="#bR" x="500"/></g><g id="n49-9"><use href="#bR" x="552"/></g><g id="n49-10"><use href="#bR" x="604"/></g><g id="n49-11"><use href="#bR" x="656"/></g></g>
<g id="row50" transform="translate(0 2610)"><g id="n50-0"><use href="#bL" x="84"/></g><g id="n50-1"><use href="#bL" x="136"/></g><g id="n50-2"><use href="#bL" x="188"/></g><g id="n50-3"><use href="#bL" x="240"/></g><g id="n50-4"><use href="#bL" x="292"/></g><g id="n50-5"><use href="#bL" x="344"/></g><g id="n50-6"><use href="#bL" x="396"/></g><g id="n50-7"><use href="#bL" x="448"/></g><g id="n50-8"><use href="#bL" x="500"/></g><g id="n50-9"><use href="#bL" x="552"/></g><g id="n50-10"><use href="#bL" x="604"/></g><g id="n50-11"><use href="#bL" x="656"/></g></g>
<g id="row51" transform="translate(0 2662)"><g id="n51-0"><use href="#bR" x="84"/></g><g id="n51-1"><use href="#bR" x="136"/></g><g id="n51-2"><use href="#bR" x="188"/></g><g id="n51-3"><use href="#bR" x="240"/></g><g id="n51-4"><use href="#bR" x="292"/></g><g id="n51-5"><use href="#bR" x="344"/></g><g id="n51-6"><use href="#bR" x="396"/></g><g id="n51-7"><use href="#bR" x="448"/></g><g id="n51-8"><use href="#bR" x="500"/></g><g id="n51-9"><use href="#bR" x="552"/></g><g id="n51-10"><use href="#bR" x="604"/></g><g id="n51-11"><use href="#bR" x="656"/></g></g>
</g>
<g id="labels">
<path class="g" d="M674 62.5H714M674 166.5H714M26 114.5H66M674 114.5H714M26 218.5H66M674 218.5H714M26 270.5H66M674 270.5H714M26 322.5H66M674 322.5H714M26 374.5H66M674 374.5H714M26 426.5H66M674 426.5H714M26 478.5H66M674 478.5H714M26 530.5H66M674 530.5H714M26 582.5H66M674 582.5H714M26 634.5H66M674 634.5H714M26 686.5H66M674 686.5H714M26 738.5H66M674 738.5H714M26 790.5H66M674 790.5H714M26 842.5H66M674 842.5H714M26 894.5H66M674 894.5H714M26 946.5H66M674 946.5H714M26 998.5H66M674 998.5H714M26 1050.5H66M674 1050.5H714M26 1102.5H66M674 1102.5H714M26 1154.5H66M674 1154.5H714M26 1206.5H66M674 1206.5H714M26 1258.5H66M674 1258.5H714M26 1310.5H66M674 1310.5H714M26 1362.5H66M674 1362.5H714M26 1414.5H66M674 1414.5H714M26 1466.5H66M674 1466.5H714M26 1518.5H66M674 1518.5H714M26 1570.5H66M674 1570.5H714M26 1622.5H66M674 1622.5H714M26 1674.5H66M674 1674.5H714M26 1726.5H66M674 1726.5H714M26 1778.5H66M674 1778.5H714M26 1830.5H66M674 1830.5H714M26 1882.5H66M674 1882.5H714M26 1934.5H66M674 1934.5H714M26 1986.5H66M674 1986.5H714M26 2038.5H66M674 2038.5H714M26 2090.5H66M674 2090.5H714M26 2142.5H66M674 2142.5H714M26 2194.5H66M674 2194.5H714M26 2246.5H66M674 2246.5H714M26 2298.5H66M674 2298.5H714M26 2350.5H66M674 2350.5H714M26 2402.5H66M674 2402.5H714M26 2454.5H66M674 2454.5H714M26 2506.5H66M674 2506.5H714M26 2558.5H66M26 2610.5H66M674 2610.5H714M26 2662.5H66"/>
<text class="e" x="31" y="66">A</text><text class="e" x="31" y="170">B</text><text class="e" x="710" y="2562" text-anchor="end">B</text><text class="e" x="710" y="2666" text-anchor="end">A</text>
<text class="l" x="21" y="66">1</text><text class="r" x="719" y="66">1</text>
<text class="l" x="21" y="118">2</text><text class="r" x="719" y="118">2</text>
<text class="l" x="21" y="170">3</text><text class="r" x="719" y="170">3</text>
<text class="l" x="21" y="222">4</text><text class="r" x="719" y="222">4</text>
<text class="l" x="21" y="274">5</text><text class="r" x="719" y="274">5</text>
<text class="l" x="21" y="326">6</text><text class="r" x="719" y="326">6</text>
<text class="l" x="21" y="378">7</text><text class="r" x="719" y="378">7</text>
<text class="l" x="21" y="430">8</text><text class="r" x="719" y="430">8</text>
<text class="l" x="21" y="482">9</text><text class="r" x="719" y="482">9</text>
<text class="l" x="21" y="534">10</text><text class="r" x="719" y="534">10</text>
<text class="l" x="21" y="586">11</text><text class="r" x="719" y="586">11</text>
<text class="l" x="21" y="638">12</text><text class="r" x="719" y="638">12</text>
<text class="l" x="21" y="690">13</text><text class="r" x="719" y="690">13</text>
<text class="l" x="21" y="742">14</text><text class="r" x="719" y="742">14</text>
<text class="l" x="21" y="794">15</text><text class="r" x="719" y="794">15</text>
<text class="l" x="21" y="846">16</text><text class="r" x="719" y="846">16</text>
<text class="l" x="21" y="898">17</text><text class="r" x="719" y="898">17</text>
<text class="l" x="21" y="950">18</text><text class="r" x="719" y="950">18</text>
<text class="l" x="21" y="1002">19</text><text class="r" x="719" y="1002">19</text>
<text class="l" x="21" y="1054">20</text><text class="r" x="719" y="1054">20</text>
<text class="l" x="21" y="1106">21</text><text class="r" x="719" y="1106">21</text>
<text class="l" x="21" y="1158">22</text><text class="r" x="719" y="1158">22</text>
<text class="l" x="21" y="1210">23</text><text class="r" x="719" y="1210">23</text>
<text class="l" x="21" y="1262">24</text><text class="r" x="719" y="1262">24</text>
<text class="l" x="21" y="1314">25</text><text class="r" x="719" y="1314">25</text>
<text class="l" x="21" y="1366">26</text><text class="r" x="719" y="1366">26</text>
<text class="l" x="21" y="1418">27</text><text class="r" x="719" y="1418">27</text>
<text class="l" x="21" y="1470">28</text><text class="r" x="719" y="1470">28</text>
<text class="l" x="21" y="1522">29</text><text class="r" x="719" y="1522">29</text>
<text class="l" x="21" y="1574">30</text><text class="r" x="719" y="1574">30</text>
<text class="l" x="21" y="1626">31</text><text class="r" x="719" y="1626">31</text>
<text class="l" x="21" y="1678">32</text><text class="r" x="719" y="1678">32</text>
<text class="l" x="21" y="1730">33</text><text class="r" x="719" y="1730">33</text>
<text class="l" x="21" y="1782">34</text><text class="r" x="719" y="1782">34</text>
<text class="l" x="21" y="1834">35</text><text class="r" x="719" y="1834">35</text>
<text class="l" x="21" y="1886">36</text><text class="r" x="719" y="1886">36</text>
<text class="l" x="21" y="1938">37</text><text class="r" x="719" y="1938">37</text>
<text class="l" x="21" y="1990">38</text><text class="r" x="719" y="1990">38</text>
<text class="l" x="21" y="2042">39</text><text class="r" x="719" y="2042">39</text>
<text class="l" x="21" y="2094">40</text><text class="r" x="719" y="2094">40</text>
<text class="l" x="21" y="2146">41</text><text class="r" x="719" y="2146">41</text>
<text class="l" x="21" y="2198">42</text><text class="r" x="719" y="2198">42</text>
<text class="l" x="21" y="2250">43</text><text class="r" x="719" y="2250">43</text>
<text class="l" x="21" y="2302">44</text><text class="r" x="719" y="2302">44</text>
<text class="l" x="21" y="2354">45</text><text class="r" x="719" y="2354">45</text>
<text class="l" x="21" y="2406">46</text><text class="r" x="719" y="2406">46</text>
<text class="l" x="21" y="2458">47</text><text class="r" x="719" y="2458">47</text>
<text class="l" x="21" y="2510">48</text><text class="r" x="719" y="2510">48</text>
<text class="l" x="21" y="2562">49</text><text class="r" x="719" y="2562">49</text>
<text class="l" x="21" y="2614">50</text><text class="r" x="719" y="2614">50</text>
<text class="l" x="21" y="2666">51</text><text class="r" x="719" y="2666">51</text>
</g>
<text class="w" x="370" y="1393">BRACELETBOOK.COM</text>
</svg>
